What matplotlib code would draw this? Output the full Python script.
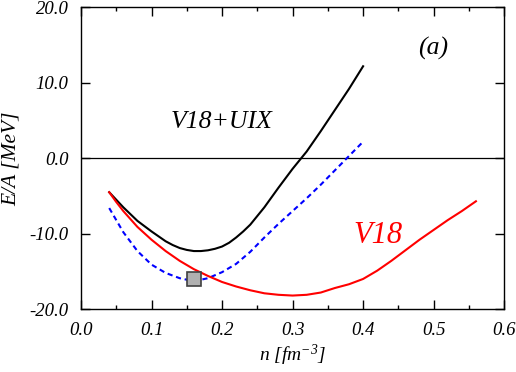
import matplotlib
matplotlib.use('Agg')
import matplotlib.pyplot as plt
from matplotlib.ticker import MultipleLocator, FormatStrFormatter

plt.rcParams['font.family'] = ['Liberation Serif', 'DejaVu Serif']
plt.rcParams['font.style'] = 'italic'
plt.rcParams['mathtext.fontset'] = 'custom'
plt.rcParams['mathtext.it'] = 'Liberation Serif:italic'
plt.rcParams['mathtext.rm'] = 'Liberation Serif:italic'
plt.rcParams['mathtext.default'] = 'it'

# V18+UIX (black solid)
n_uix = [0.04, 0.06, 0.08, 0.10, 0.12, 0.13, 0.14, 0.15, 0.16, 0.17, 0.18,
         0.19, 0.20, 0.21, 0.22, 0.23, 0.24, 0.26, 0.28, 0.30, 0.32, 0.34,
         0.36, 0.38, 0.40]
e_uix = [-4.5, -6.5, -8.3, -9.7, -11.0, -11.5, -11.9, -12.15, -12.3, -12.3, -12.2,
         -12.0, -11.7, -11.2, -10.5, -9.7, -8.8, -6.5, -3.9, -1.4, 0.9, 3.6,
         6.4, 9.2, 12.2]

# blue dashed curve
n_dash = [0.04, 0.06, 0.08, 0.10, 0.12, 0.14, 0.15, 0.16, 0.17, 0.18, 0.20, 0.22,
          0.24, 0.26, 0.28, 0.30, 0.32, 0.34, 0.36, 0.38, 0.40]
e_dash = [-6.6, -9.8, -12.3, -14.1, -15.2, -15.9, -16.1, -16.2, -16.1, -15.9, -15.1, -14.0,
          -12.4, -10.5, -8.7, -7.0, -5.3, -3.5, -1.6, 0.3, 2.2]

# V18 (red solid)
n_v18 = [0.04, 0.05, 0.06, 0.08, 0.10, 0.12, 0.14, 0.16, 0.18, 0.20, 0.22,
         0.24, 0.26, 0.28, 0.30, 0.32, 0.34, 0.36, 0.38, 0.40, 0.42,
         0.44, 0.46, 0.48, 0.50, 0.52, 0.54, 0.56]
e_v18 = [-4.5, -5.8, -7.0, -9.1, -10.8, -12.3, -13.6, -14.7, -15.6, -16.4, -17.0,
         -17.5, -17.9, -18.1, -18.2, -18.1, -17.8, -17.2, -16.7, -16.0, -14.9,
         -13.6, -12.2, -10.8, -9.5, -8.2, -7.0, -5.7]

# empirical saturation point
n_sat = [0.16]
e_sat = [-16.0]

fig = plt.figure(figsize=(5.16, 3.72), dpi=100)
ax = fig.add_axes([0.157, 0.169, 0.820, 0.811])

ax.axhline(0, color='black', lw=0.9)
ax.plot(n_uix, e_uix, color='black', lw=1.5)
ax.plot(n_dash, e_dash, color='blue', lw=1.5, linestyle=(0, (2.5, 1.8)))
ax.plot(n_v18, e_v18, color='red', lw=1.5)
ax.plot(n_sat, e_sat, marker='s', markersize=10.5, markerfacecolor='#b0b0b0',
        markeredgecolor='#404040', markeredgewidth=1.2, linestyle='none')

ax.text(0.2, 4.8, 'V18+UIX', fontsize=18.5, ha='center', va='center')
ax.text(0.421, -10.2, 'V18', fontsize=22, color='red', ha='center', va='center')
ax.text(0.499, 14.5, '(a)', fontsize=18.5, ha='center', va='center')

ax.set_xlim(0.0, 0.6)
ax.set_ylim(-20, 20)
ax.xaxis.set_major_locator(MultipleLocator(0.1))
ax.xaxis.set_minor_locator(MultipleLocator(0.05))
ax.yaxis.set_major_locator(MultipleLocator(10))
ax.xaxis.set_major_formatter(FormatStrFormatter('%.1f'))
ax.yaxis.set_major_formatter(FormatStrFormatter('%.1f'))
ax.tick_params(which='both', direction='in', top=True, right=True,
               labelsize=13.5, width=1.0)
ax.tick_params(which='major', length=6.3, pad=9)
ax.tick_params(which='minor', length=3.1)
for s in ax.spines.values():
    s.set_linewidth(1.0)

ax.set_xlabel('n [fm$^{-3}$]', fontsize=14)
ax.set_ylabel('E/A [MeV]', fontsize=15.5)
ax.xaxis.set_label_coords(0.5, -0.11)
ax.yaxis.set_label_coords(-0.142, 0.50)

fig.savefig('out.png', dpi=100)
